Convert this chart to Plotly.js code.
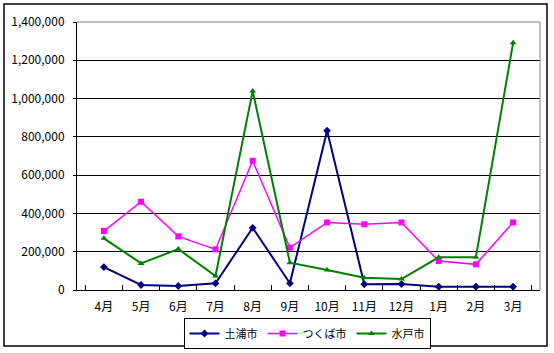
<!DOCTYPE html>
<html><head><meta charset="utf-8">
<script src="https://cdn.plot.ly/plotly-3.0.1.min.js"></script>
<style>
html,body{margin:0;padding:0;background:#fff}
#chart{width:554px;height:353px}
</style>
</head><body><div id="chart"></div>
<script>
const months = ["4月","5月","6月","7月","8月","9月","10月","11月","12月","1月","2月","3月"];
const tsuchiura = [120000,26000,21000,35000,325000,35000,832000,30000,31000,17000,17000,17000];
const tsukuba = [308000,461000,280000,212000,675000,221000,353000,343000,353000,151000,134000,353000];
const mito = [270000,139000,214000,73000,1040000,143000,104000,64000,57000,171000,171000,1291000];
const seriesNames = ["土浦市","つくば市","水戸市"];

const font = "'Noto Sans CJK JP', 'DejaVu Sans', sans-serif";
const W=554, H=353;
// outer frame (paper area) in pixels
const FL=4, FR=547, FT=4, FB=346;
const fw=FR-FL, fh=FB-FT;
const fx=(x)=>(x-FL)/fw, fy=(y)=>(FB-y)/fh;
// inner plot area in pixels
const PL=77, PR=540, PT=22, PB=290;

const traces = [
  {x:months,y:tsuchiura,name:seriesNames[0],type:'scatter',mode:'lines+markers',
   line:{color:'#000080',width:2},marker:{symbol:'diamond',size:6,color:'#000080'}},
  {x:months,y:tsukuba,name:seriesNames[1],type:'scatter',mode:'lines+markers',
   line:{color:'#FF00FF',width:1.5},marker:{symbol:'square',size:6,color:'#FF00FF'}},
  {x:months,y:mito,name:seriesNames[2],type:'scatter',mode:'lines+markers',
   line:{color:'#008000',width:2},marker:{symbol:'triangle-up',size:6,color:'#008000'}}
];

const layout = {
  width:W,height:H,margin:{l:FL,r:W-FR,t:FT,b:H-FB},
  paper_bgcolor:'#fff',plot_bgcolor:'#fff',
  font:{family:font,size:11,color:'#000'},
  showlegend:true,
  legend:{orientation:'h',x:fx(307),xanchor:'center',y:fy(333.5),yanchor:'middle',
    bordercolor:'#000',borderwidth:1,font:{size:11},itemwidth:30,tracegroupgap:0},
  xaxis:{type:'category',domain:[fx(PL),fx(PR)],anchor:'y',showgrid:false,showline:true,linecolor:'#000',linewidth:1,
    ticks:'inside',ticklen:5,tickcolor:'#000',tickson:'boundaries',
    tickfont:{size:12},ticklabelstandoff:6,fixedrange:true,zeroline:false,automargin:false},
  yaxis:{domain:[fy(PB),fy(PT)],anchor:'x',range:[0,1400000],dtick:200000,tickformat:',d',showgrid:true,gridcolor:'#000',gridwidth:1,
    showline:true,linecolor:'#000',linewidth:1,ticks:'outside',ticklen:3,tickcolor:'#000',
    tickfont:{size:12},ticklabelstandoff:6,zeroline:false,fixedrange:true,automargin:false},
  shapes:[
    {type:'line',xref:'x domain',yref:'y domain',x0:0,x1:1,y0:1,y1:1,line:{color:'#808080',width:1},layer:'above'},
    {type:'line',xref:'x domain',yref:'y domain',x0:1,x1:1,y0:0,y1:1,line:{color:'#808080',width:1},layer:'above'},
    {type:'rect',xref:'paper',yref:'paper',x0:0,x1:1,y0:0,y1:1,line:{color:'#000',width:1.5},layer:'below'}
  ]
};
Plotly.newPlot('chart',traces,layout,{displayModeBar:false,staticPlot:true});
</script></body></html>
